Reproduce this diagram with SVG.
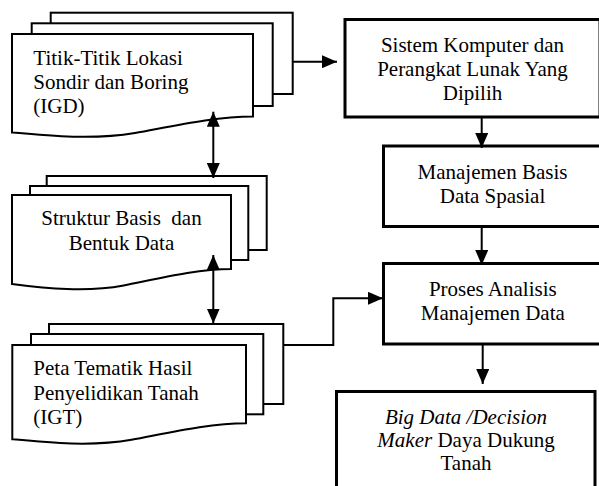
<svg xmlns="http://www.w3.org/2000/svg" width="599" height="486" viewBox="0 0 599 486">
<style>
text{font-family:"Liberation Serif","Times New Roman",serif;font-size:21px;fill:#000;white-space:pre}
.c{text-anchor:middle}
.sheet{fill:#fff;stroke:#000;stroke-width:2}
.box{fill:#fff;stroke:#000;stroke-width:3}
.conn{fill:none;stroke:#000;stroke-width:2}
.it{font-style:italic}
</style>
<defs>
<marker id="ah" markerUnits="userSpaceOnUse" markerWidth="15" markerHeight="13" refX="15" refY="6.5" orient="auto-start-reverse">
<path d="M0,0 L15,6.5 L0,13 z" fill="#000"/>
</marker>
</defs>
<g id="doc1">
<rect class="sheet" x="50.7" y="12.7" width="242" height="81.3"/>
<rect class="sheet" x="31.7" y="23.3" width="241" height="82.7"/>
<path class="sheet" d="M12,34 H253 V116.5 C214.4,116.5 173.5,126 134.9,133 C94,140 50.6,136 12,132.5 Z"/>
<text x="33.3" y="65">Titik-Titik Lokasi</text>
<text x="33.3" y="89">Sondir dan Boring</text>
<text x="33.3" y="113">(IGD)</text>
</g>
<g id="doc2">
<rect class="sheet" x="46.7" y="176" width="220" height="74"/>
<rect class="sheet" x="30" y="186" width="218.3" height="74"/>
<path class="sheet" d="M12,195 H231 V269 C196,269 158.7,278.5 123.7,285.5 C86.5,292.5 47,288.5 12,284 Z"/>
<text class="c" x="121.5" y="225">Struktur Basis  dan</text>
<text class="c" x="121.5" y="250">Bentuk Data</text>
</g>
<g id="doc3">
<rect class="sheet" x="49" y="324" width="234.3" height="80"/>
<rect class="sheet" x="31" y="334" width="232.3" height="80.3"/>
<path class="sheet" d="M12.3,345 H246 V423.3 C208.6,423.3 168.9,432.8 131.5,439.8 C91.8,446.8 49.7,442.8 12.3,439.3 Z"/>
<text x="33.3" y="375">Peta Tematik Hasil</text>
<text x="33.3" y="400">Penyelidikan Tanah</text>
<text x="33.3" y="424">(IGT)</text>
</g>
<g id="sistem">
<rect class="box" x="345" y="19.5" width="255" height="97.5"/>
<text class="c" x="472.5" y="52">Sistem Komputer dan</text>
<text class="c" x="472.5" y="76">Perangkat Lunak Yang</text>
<text class="c" x="472.5" y="100">Dipilih</text>
</g>
<g id="manajemen">
<rect class="box" x="383.5" y="146" width="217" height="80.5"/>
<text class="c" x="492.5" y="178.5">Manajemen Basis</text>
<text class="c" x="492.5" y="202.5">Data Spasial</text>
</g>
<g id="proses">
<rect class="box" x="383.5" y="263.5" width="219" height="80.5"/>
<text class="c" x="492.8" y="295.5">Proses Analisis</text>
<text class="c" x="492.8" y="320">Manajemen Data</text>
</g>
<g id="bigdata">
<rect class="box" x="336.5" y="391.5" width="258.5" height="110"/>
<text class="c" x="466" y="423.5"><tspan class="it">Big Data /Decision</tspan></text>
<text class="c" x="466" y="447"><tspan class="it">Maker</tspan> Daya Dukung</text>
<text class="c" x="466" y="470">Tanah</text>
</g>
<g id="connectors">
<path class="conn" d="M293,61.7 H337" marker-end="url(#ah)"/>
<path class="conn" d="M481.7,117 V148" marker-end="url(#ah)"/>
<path class="conn" d="M481.7,226.7 V265" marker-end="url(#ah)"/>
<path class="conn" d="M482.7,344 V384" marker-end="url(#ah)"/>
<path class="conn" d="M213.3,111.7 V178" marker-start="url(#ah)" marker-end="url(#ah)"/>
<path class="conn" d="M213.3,255 V323.5" marker-start="url(#ah)" marker-end="url(#ah)"/>
<path class="conn" d="M283.3,345 H333.3 V298.3 H383" marker-end="url(#ah)"/>
</g>
</svg>
